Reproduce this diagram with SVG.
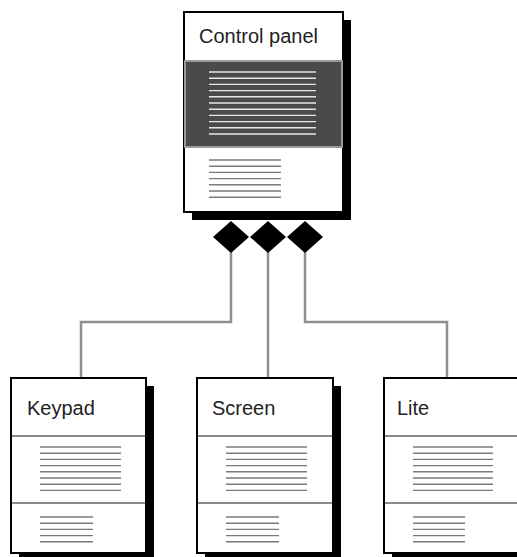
<svg xmlns="http://www.w3.org/2000/svg" width="517" height="557" viewBox="0 0 517 557">
<defs>
<style>
.shadow{fill:#000}
.box{fill:#fff;stroke:#000;stroke-width:2}
.div{stroke:#8a8a8a;stroke-width:2}
.ln{stroke:#7a7a7a;stroke-width:1.4}
.wl{stroke:#e6e6e6;stroke-width:1.4}
.lbl{font-family:"Liberation Sans",Arial,sans-serif;font-size:20px;fill:#222}
.conn{fill:none;stroke:#8f8f8f;stroke-width:2.5}
.dia{fill:#000}
</style>
</defs>
<g id="connectors">
<polyline class="conn" points="231,250 231,322 81,322 81,378"/>
<polyline class="conn" points="268,250 268,378"/>
<polyline class="conn" points="305,250 305,322 447,322 447,378"/>
<polygon class="dia" points="231,221 249,237 231,253 213,237"/>
<polygon class="dia" points="268,221 286,237 268,253 250,237"/>
<polygon class="dia" points="305,221 323,237 305,253 287,237"/>
</g>
<g id="control-panel">
<rect class="shadow" x="192" y="20" width="159" height="200"/>
<rect class="box" x="184" y="12" width="159" height="200"/>
<rect x="185" y="61" width="157" height="86" fill="#4a4a4a" stroke="#9a9a9a" stroke-width="2"/>
<g class="wl">
<line x1="209" y1="72" x2="316" y2="72"/><line x1="209" y1="78.2" x2="316" y2="78.2"/><line x1="209" y1="84.4" x2="316" y2="84.4"/><line x1="209" y1="90.6" x2="316" y2="90.6"/><line x1="209" y1="96.8" x2="316" y2="96.8"/><line x1="209" y1="103" x2="316" y2="103"/><line x1="209" y1="109.2" x2="316" y2="109.2"/><line x1="209" y1="115.4" x2="316" y2="115.4"/><line x1="209" y1="121.6" x2="316" y2="121.6"/><line x1="209" y1="127.8" x2="316" y2="127.8"/><line x1="209" y1="134" x2="316" y2="134"/>
</g>
<g class="ln">
<line x1="209" y1="160" x2="281" y2="160"/><line x1="209" y1="166.2" x2="281" y2="166.2"/><line x1="209" y1="172.4" x2="281" y2="172.4"/><line x1="209" y1="178.6" x2="281" y2="178.6"/><line x1="209" y1="184.8" x2="281" y2="184.8"/><line x1="209" y1="191" x2="281" y2="191"/><line x1="209" y1="197.2" x2="281" y2="197.2"/>
</g>
<text class="lbl" x="199" y="43">Control panel</text>
</g>
<g id="keypad">
<rect class="shadow" x="19" y="386" width="135" height="175"/>
<rect class="box" x="11" y="378" width="135" height="175"/>
<line class="div" x1="12" y1="436" x2="145" y2="436"/>
<line class="div" x1="12" y1="503" x2="145" y2="503"/>
<g class="ln">
<line x1="40" y1="447" x2="121" y2="447"/><line x1="40" y1="453.2" x2="121" y2="453.2"/><line x1="40" y1="459.4" x2="121" y2="459.4"/><line x1="40" y1="465.6" x2="121" y2="465.6"/><line x1="40" y1="471.8" x2="121" y2="471.8"/><line x1="40" y1="478" x2="121" y2="478"/><line x1="40" y1="484.2" x2="121" y2="484.2"/><line x1="40" y1="490.4" x2="121" y2="490.4"/>
<line x1="40" y1="517" x2="93" y2="517"/><line x1="40" y1="523.2" x2="93" y2="523.2"/><line x1="40" y1="529.4" x2="93" y2="529.4"/><line x1="40" y1="535.6" x2="93" y2="535.6"/><line x1="40" y1="541.8" x2="93" y2="541.8"/>
</g>
<text class="lbl" x="27" y="415">Keypad</text>
</g>
<g id="screen">
<rect class="shadow" x="205" y="386" width="136" height="175"/>
<rect class="box" x="197" y="378" width="136" height="175"/>
<line class="div" x1="198" y1="436" x2="332" y2="436"/>
<line class="div" x1="198" y1="503" x2="332" y2="503"/>
<g class="ln">
<line x1="226" y1="447" x2="307" y2="447"/><line x1="226" y1="453.2" x2="307" y2="453.2"/><line x1="226" y1="459.4" x2="307" y2="459.4"/><line x1="226" y1="465.6" x2="307" y2="465.6"/><line x1="226" y1="471.8" x2="307" y2="471.8"/><line x1="226" y1="478" x2="307" y2="478"/><line x1="226" y1="484.2" x2="307" y2="484.2"/><line x1="226" y1="490.4" x2="307" y2="490.4"/>
<line x1="226" y1="517" x2="279" y2="517"/><line x1="226" y1="523.2" x2="279" y2="523.2"/><line x1="226" y1="529.4" x2="279" y2="529.4"/><line x1="226" y1="535.6" x2="279" y2="535.6"/><line x1="226" y1="541.8" x2="279" y2="541.8"/>
</g>
<text class="lbl" x="212" y="415">Screen</text>
</g>
<g id="lite">
<rect class="shadow" x="392" y="386" width="135" height="175"/>
<rect class="box" x="384" y="378" width="135" height="175"/>
<line class="div" x1="385" y1="436" x2="518" y2="436"/>
<line class="div" x1="385" y1="503" x2="518" y2="503"/>
<g class="ln">
<line x1="413" y1="447" x2="493" y2="447"/><line x1="413" y1="453.2" x2="493" y2="453.2"/><line x1="413" y1="459.4" x2="493" y2="459.4"/><line x1="413" y1="465.6" x2="493" y2="465.6"/><line x1="413" y1="471.8" x2="493" y2="471.8"/><line x1="413" y1="478" x2="493" y2="478"/><line x1="413" y1="484.2" x2="493" y2="484.2"/><line x1="413" y1="490.4" x2="493" y2="490.4"/>
<line x1="413" y1="517" x2="465" y2="517"/><line x1="413" y1="523.2" x2="465" y2="523.2"/><line x1="413" y1="529.4" x2="465" y2="529.4"/><line x1="413" y1="535.6" x2="465" y2="535.6"/><line x1="413" y1="541.8" x2="465" y2="541.8"/>
</g>
<text class="lbl" x="397" y="415">Lite</text>
</g>
</svg>
